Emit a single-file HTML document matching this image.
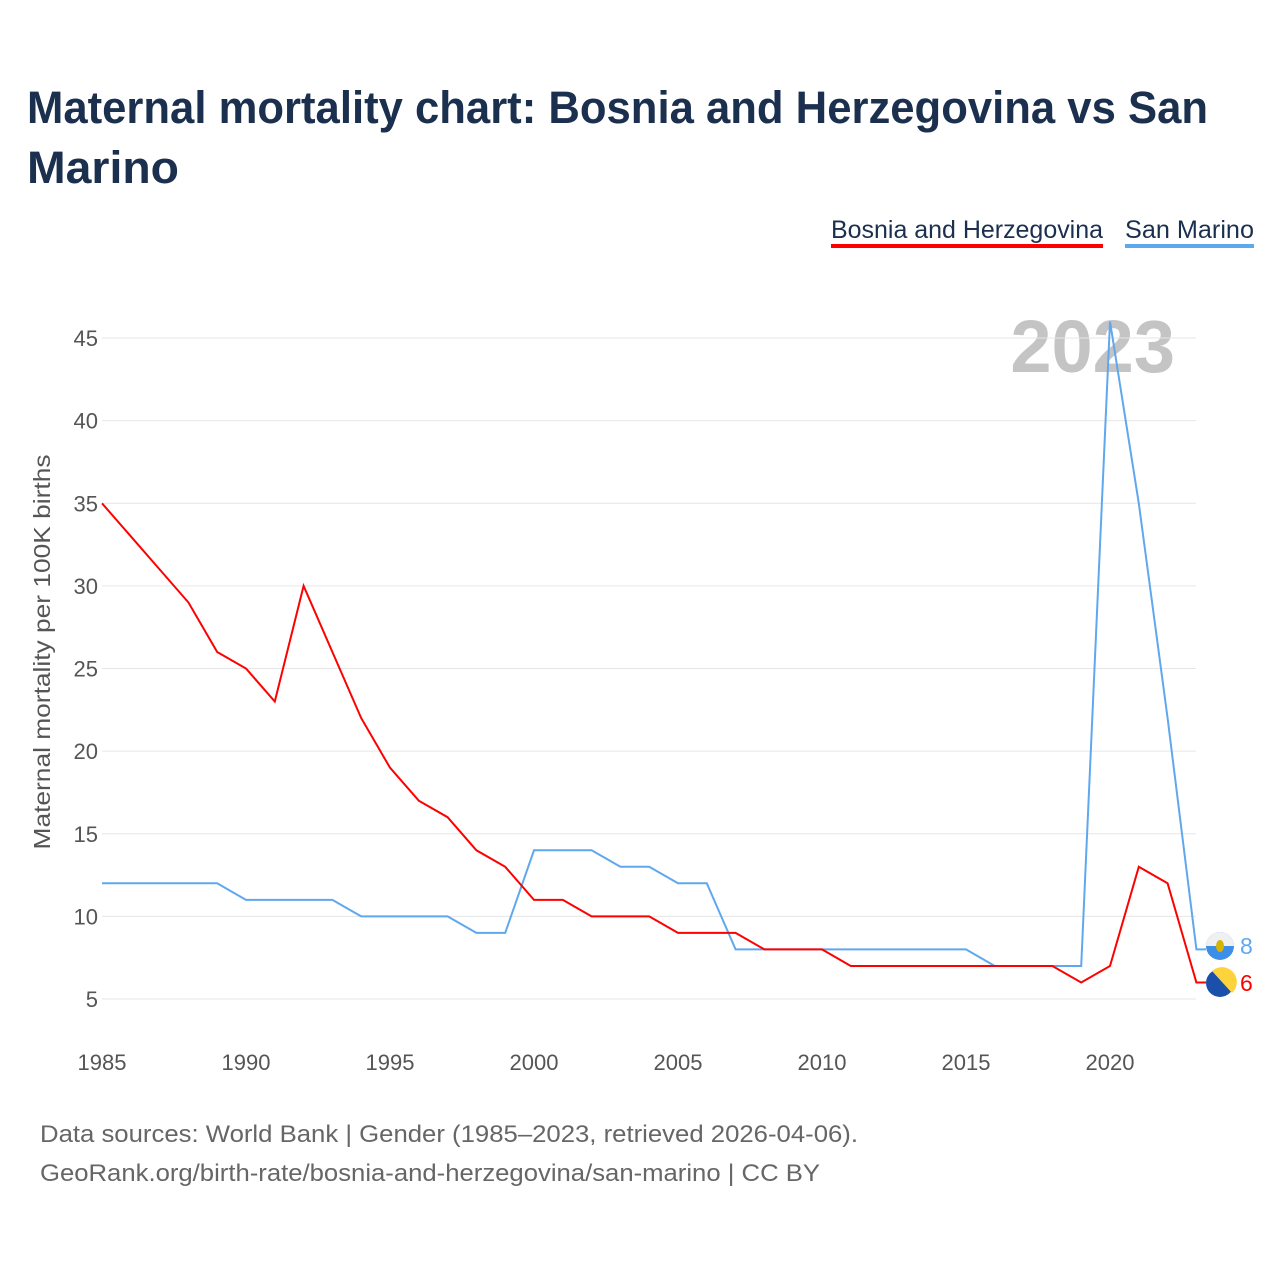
<!DOCTYPE html>
<html><head><meta charset="utf-8"><style>
body{margin:0;background:#fff;font-family:"Liberation Sans",sans-serif;}
</style></head><body>
<svg width="1280" height="1280" xmlns="http://www.w3.org/2000/svg">
<text x="27" y="123" font-size="45" font-weight="bold" fill="#1b2f4e" textLength="1181" lengthAdjust="spacingAndGlyphs">Maternal mortality chart: Bosnia and Herzegovina vs San</text>
<text x="27" y="183" font-size="45" font-weight="bold" fill="#1b2f4e" textLength="152" lengthAdjust="spacingAndGlyphs">Marino</text>
<g><text x="831" y="238" font-size="25" fill="#1b2f4e" textLength="272" lengthAdjust="spacingAndGlyphs">Bosnia and Herzegovina</text><rect x="831" y="244" width="272" height="4" fill="#ff0000"/></g>
<g><text x="1125" y="238" font-size="25" fill="#1b2f4e" textLength="129" lengthAdjust="spacingAndGlyphs">San Marino</text><rect x="1125" y="244" width="129" height="4" fill="#5fa8ee"/></g>
<text x="1175" y="372" font-size="74" font-weight="bold" fill="#c4c4c4" text-anchor="end">2023</text>
<text transform="translate(50,652) rotate(-90)" font-size="23" fill="#555" text-anchor="middle" textLength="395" lengthAdjust="spacingAndGlyphs">Maternal mortality per 100K births</text>
<g id="grid"></g><g id="lines"></g>
<g>
<circle cx="1220" cy="946" r="14" fill="#3d8ee6"/><path d="M1206 946 A14 14 0 0 1 1234 946 Z" fill="#f0f0f0"/><ellipse cx="1220" cy="946" rx="4" ry="6" fill="#d6b400"/>
<text x="1240" y="954" font-size="23" fill="#5fa8ee">8</text></g>
<g>
<circle cx="1220" cy="983" r="14" fill="#1a4faa"/><path d="M1212 971 A14 14 0 0 1 1232 993 Z" fill="#fdd33d"/>
<text x="1240" y="991" font-size="23" fill="#ff0000">6</text></g>
<text x="40" y="1142" font-size="24" fill="#666" textLength="818" lengthAdjust="spacingAndGlyphs">Data sources: World Bank | Gender (1985–2023, retrieved 2026-04-06).</text>
<text x="40" y="1181" font-size="24" fill="#666" textLength="780" lengthAdjust="spacingAndGlyphs">GeoRank.org/birth-rate/bosnia-and-herzegovina/san-marino | CC BY</text>
</svg>
<script>
const years=[1985,1986,1987,1988,1989,1990,1991,1992,1993,1994,1995,1996,1997,1998,1999,2000,2001,2002,2003,2004,2005,2006,2007,2008,2009,2010,2011,2012,2013,2014,2015,2016,2017,2018,2019,2020,2021,2022,2023];
const bosnia=[35,33,31,29,26,25,23,30,26,22,19,17,16,14,13,11,11,10,10,10,9,9,9,8,8,8,7,7,7,7,7,7,7,7,6,7,13,12,6];
const sanMarino=[12,12,12,12,12,11,11,11,11,10,10,10,10,9,9,14,14,14,13,13,12,12,8,8,8,8,8,8,8,8,8,7,7,7,7,46,35,22,8];
const yTicks=[5,10,15,20,25,30,35,40,45];
const xTicks=[1985,1990,1995,2000,2005,2010,2015,2020];
const NS="http://www.w3.org/2000/svg";
const X=y=>102+(y-1985)*28.8;
const Y=v=>999-(v-5)*16.525;
const grid=document.getElementById('grid'),lines=document.getElementById('lines');
yTicks.forEach(t=>{
 const l=document.createElementNS(NS,'line');
 l.setAttribute('x1',102);l.setAttribute('x2',1196);l.setAttribute('y1',Y(t));l.setAttribute('y2',Y(t));
 l.setAttribute('stroke','#e6e6e6');l.setAttribute('stroke-width','1');
 
 
 grid.appendChild(l);
 const tx=document.createElementNS(NS,'text');
 tx.setAttribute('x',98);tx.setAttribute('y',Y(t)+8);tx.setAttribute('text-anchor','end');
 tx.setAttribute('font-size','22');tx.setAttribute('fill','#555');tx.textContent=t;
 
 
 grid.appendChild(tx);
});
xTicks.forEach(t=>{
 const tx=document.createElementNS(NS,'text');
 tx.setAttribute('x',X(t));tx.setAttribute('y',1070);tx.setAttribute('text-anchor','middle');
 tx.setAttribute('font-size','22');tx.setAttribute('fill','#555');tx.textContent=t;
 
 
 grid.appendChild(tx);
});
function line(data,color,name){
 let d=data.map((v,i)=>(i?'L':'M')+X(years[i]).toFixed(1)+' '+Y(v).toFixed(1)).join(' ');
 d+=' L1206 '+Y(data[data.length-1]).toFixed(1);
 const p=document.createElementNS(NS,'path');
 p.setAttribute('d',d);p.setAttribute('fill','none');p.setAttribute('stroke',color);p.setAttribute('stroke-width','2');
 
 
 lines.appendChild(p);
}
line(sanMarino,'#5fa8ee','line-san-marino');
line(bosnia,'#ff0000','line-bosnia');
</script>
</body></html>
